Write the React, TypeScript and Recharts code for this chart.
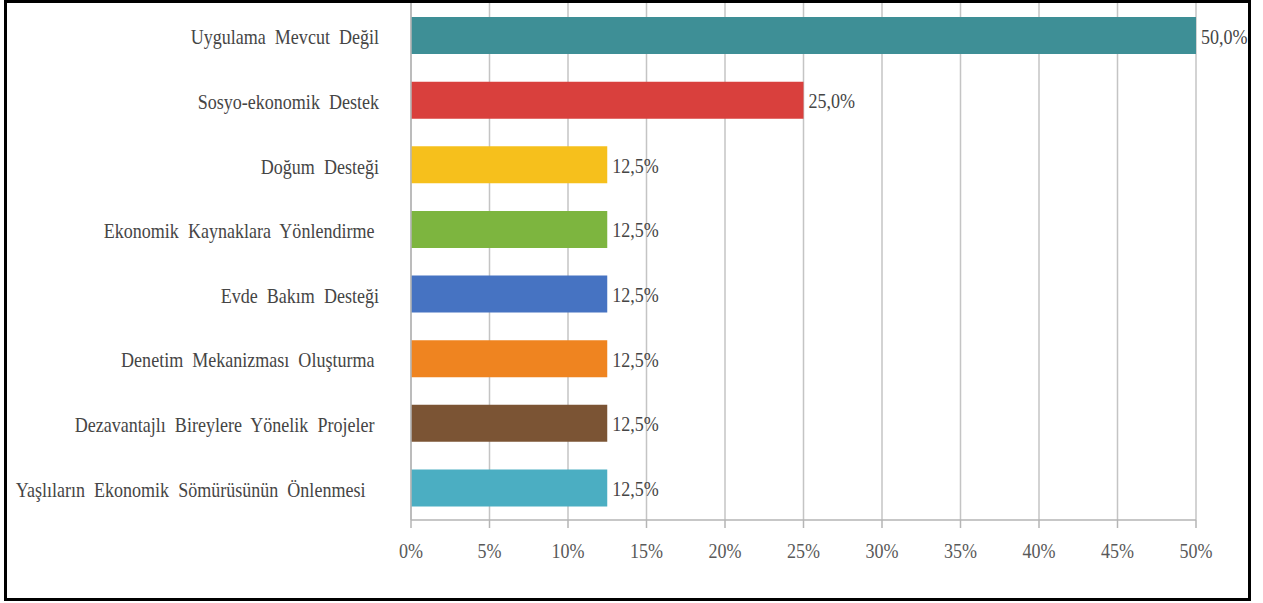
import { BarChart, Bar, XAxis, YAxis, CartesianGrid, Cell, LabelList } from "recharts";

const categories = [
  "Uygulama  Mevcut  Değil",
  "Sosyo-ekonomik  Destek",
  "Doğum  Desteği",
  "Ekonomik  Kaynaklara  Yönlendirme ",
  "Evde  Bakım  Desteği",
  "Denetim  Mekanizması  Oluşturma ",
  "Dezavantajlı  Bireylere  Yönelik  Projeler ",
  "Yaşlıların  Ekonomik  Sömürüsünün  Önlenmesi   ",
];

const values = [50, 25, 12.5, 12.5, 12.5, 12.5, 12.5, 12.5];

const barColors = [
  "#3E8F96",
  "#D9403D",
  "#F6C01C",
  "#7DB53F",
  "#4673C2",
  "#EF8420",
  "#7B5434",
  "#4BAEC2",
];

const xTicks = [0, 5, 10, 15, 20, 25, 30, 35, 40, 45, 50];

const data = categories.map((name, i) => ({ name, value: values[i] }));

const FONT = "'Liberation Serif', 'Times New Roman', serif";
const SQUEEZE = 0.82;

const YTick = (props: any) => {
  const { x, y, payload } = props;
  return (
    <text
      transform={`translate(${x - 24},${y + 9}) scale(${SQUEEZE},1)`}
      textAnchor="end"
      fontFamily={FONT}
      fontSize={22}
      fill="#454545"
      style={{ whiteSpace: "pre" }}
    >
      {payload.value}
    </text>
  );
};

const XTick = (props: any) => {
  const { x, payload } = props;
  return (
    <text
      transform={`translate(${x},558) scale(${SQUEEZE},1)`}
      textAnchor="middle"
      fontFamily={FONT}
      fontSize={22}
      fill="#595959"
    >
      {payload.value + "%"}
    </text>
  );
};

const ValueLabel = (props: any) => {
  const { x, y, width, height, value } = props;
  return (
    <text
      transform={`translate(${x + width + 5},${y + height / 2 + 8}) scale(${SQUEEZE},1)`}
      fontFamily={FONT}
      fontSize={22}
      fill="#454545"
    >
      {value.toFixed(1).replace(".", ",") + "%"}
    </text>
  );
};

export default function App() {
  return (
    <div style={{ position: "absolute", left: 0, top: 0, width: 1263, height: 603, background: "#fff" }}>
      <BarChart
        width={1263}
        height={603}
        data={data}
        layout="vertical"
        margin={{ top: 3, right: 67, bottom: 0, left: 0 }}
      >
        <CartesianGrid horizontal={false} stroke="#c4c4c4" strokeWidth={1.5} />
        <XAxis
          type="number"
          domain={[0, 50]}
          ticks={xTicks}
          height={83}
          axisLine={{ stroke: "#b5b5b5", strokeWidth: 1.5 }}
          tickLine={{ stroke: "#b5b5b5", strokeWidth: 1.5 }}
          tickSize={8}
          tick={<XTick />}
          interval={0}
        />
        <YAxis
          type="category"
          dataKey="name"
          width={411}
          axisLine={{ stroke: "#b5b5b5", strokeWidth: 1.5 }}
          tickLine={false}
          tick={<YTick />}
          interval={0}
        />
        <Bar dataKey="value" barSize={37} isAnimationActive={false}>
          {data.map((d, i) => (
            <Cell key={d.name} fill={barColors[i]} />
          ))}
          <LabelList dataKey="value" content={<ValueLabel />} />
        </Bar>
      </BarChart>
      <div
        style={{
          position: "absolute",
          left: 4,
          top: 0,
          width: 1247,
          height: 601,
          border: "3px solid #000",
          boxSizing: "border-box",
          pointerEvents: "none",
        }}
      />
    </div>
  );
}
